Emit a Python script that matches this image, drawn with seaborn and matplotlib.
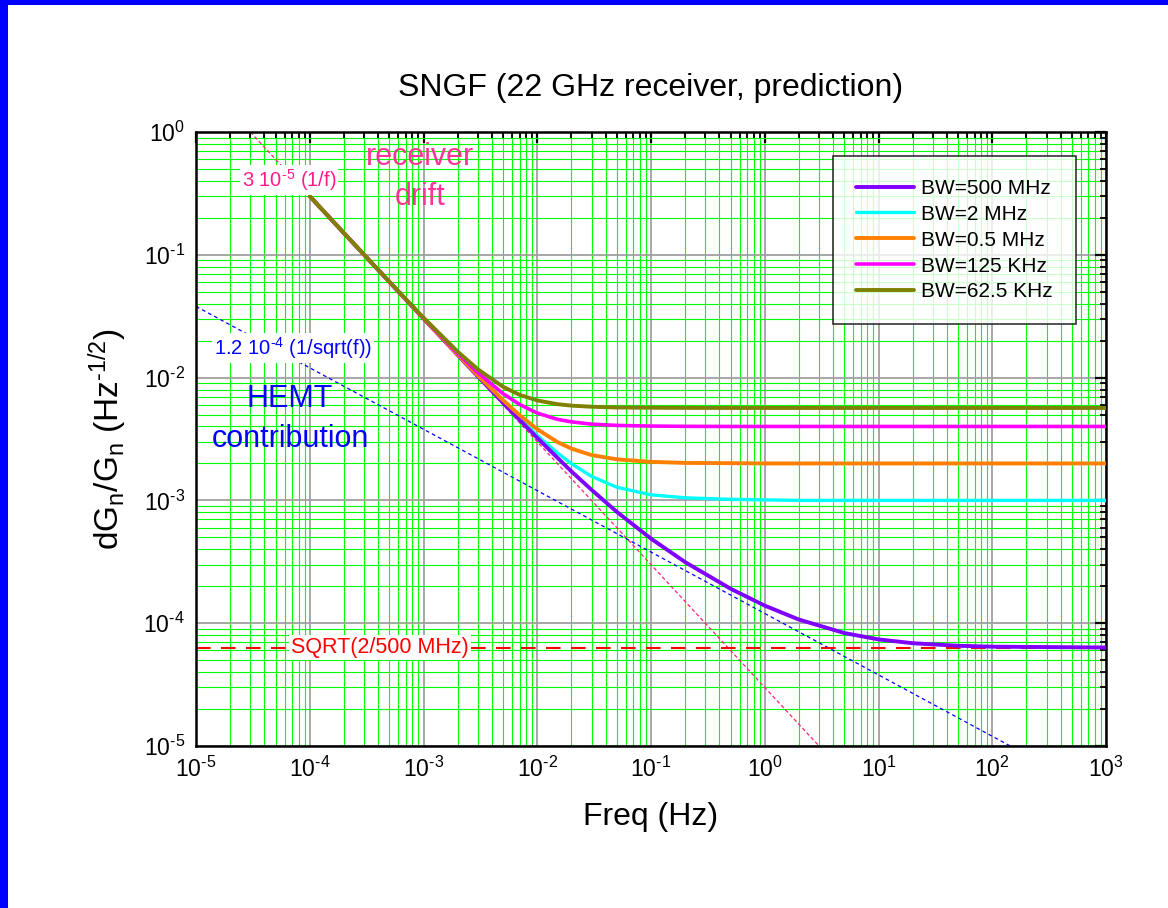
import numpy as np
import pandas as pd
import matplotlib
matplotlib.use("Agg")
import matplotlib.pyplot as plt
from matplotlib.ticker import LogLocator, NullFormatter, FixedFormatter
from matplotlib.patches import Rectangle
import seaborn as sns

# ---- data ----
freq = [1e-4, 2e-4, 5e-4, 1e-3, 2e-3, 3e-3, 5e-3, 7e-3, 1e-2, 1.5e-2, 2e-2, 3e-2,
        5e-2, 0.1, 0.2, 0.5, 1, 2, 5, 10, 20, 50, 100, 1000]
bw_500MHz = [0.300, 0.150, 0.0602, 0.0302, 0.01524, 0.01024, 0.00624, 0.00452, 0.00323,
             0.00223, 0.00172, 0.00122, 8.07e-4, 4.88e-4, 3.14e-4, 1.91e-4, 1.39e-4,
             1.07e-4, 8.32e-5, 7.38e-5, 6.87e-5, 6.55e-5, 6.44e-5, 6.34e-5]
bw_2MHz = [0.300, 0.150, 0.0602, 0.03026, 0.01527, 0.01029, 0.00632, 0.00463, 0.00338,
           0.00244, 0.00199, 0.00157, 0.00128, 0.00111, 0.00105, 0.00102, 0.00101,
           0.00100, 0.00100, 0.00100, 0.00100, 0.00100, 0.00100, 0.00100]
bw_05MHz = [0.300, 0.150, 0.0603, 0.03031, 0.01537, 0.01043, 0.00655, 0.00494, 0.00380,
            0.00299, 0.00264, 0.00234, 0.00216, 0.00206, 0.00202, 0.00201, 0.00200,
            0.00200, 0.00200, 0.00200, 0.00200, 0.00200, 0.00200, 0.00200]
bw_125KHz = [0.300, 0.150, 0.0604, 0.03050, 0.01575, 0.01099, 0.00741, 0.00604, 0.00514,
             0.00458, 0.00436, 0.00418, 0.00408, 0.00403, 0.00401, 0.00400, 0.00400,
             0.00400, 0.00400, 0.00400, 0.00400, 0.00400, 0.00400, 0.00400]
bw_625KHz = [0.300, 0.150, 0.0605, 0.03076, 0.01625, 0.01170, 0.00842, 0.00724, 0.00651,
             0.00608, 0.00591, 0.00579, 0.00571, 0.00568, 0.00567, 0.00566, 0.00566,
             0.00566, 0.00566, 0.00566, 0.00566, 0.00566, 0.00566, 0.00566]
series_labels = ["BW=500 MHz", "BW=2 MHz", "BW=0.5 MHz", "BW=125 KHz", "BW=62.5 KHz"]

drift_f = [3e-5, 3.0]
drift_v = [1.0, 1e-5]
hemt_f = [1e-5, 144.0]
hemt_v = [0.038, 1e-5]
sqrt_f = [1e-5, 1e3]
sqrt_v = [6.32e-5, 6.32e-5]

x_ticks = [1e-5, 1e-4, 1e-3, 1e-2, 1e-1, 1e0, 1e1, 1e2, 1e3]
x_exps = ["-5", "-4", "-3", "-2", "-1", "0", "1", "2", "3"]
y_ticks = [1e-5, 1e-4, 1e-3, 1e-2, 1e-1, 1e0]
y_exps = ["-5", "-4", "-3", "-2", "-1", "0"]

# ---- style ----
sns.set_style("white")
plt.rcParams["font.family"] = ["Liberation Sans", "DejaVu Sans"]
plt.rcParams["mathtext.fontset"] = "custom"
plt.rcParams["mathtext.rm"] = "Liberation Sans"
plt.rcParams["mathtext.it"] = "Liberation Sans:italic"
plt.rcParams["mathtext.bf"] = "Liberation Sans:bold"
plt.rcParams["mathtext.default"] = "regular"
plt.rcParams["axes.unicode_minus"] = False
plt.rcParams["text.color"] = "black"
plt.rcParams["axes.labelcolor"] = "black"
plt.rcParams["xtick.color"] = "black"
plt.rcParams["ytick.color"] = "black"

HY = "\u2010"  # short hyphen for exponents


def exp_label(e):
    return "$10^{" + e.replace("-", HY) + "}$"


W, H = 1168, 908
fig = plt.figure(figsize=(W / 100, H / 100), dpi=100)
fig.patch.set_facecolor("white")
ax = fig.add_axes([196 / W, 1 - 746 / H, (1106 - 196) / W, (746 - 132) / H])
ax.set_facecolor("white")
ax.set_xscale("log")
ax.set_yscale("log")

# reference lines
ax.plot(drift_f, drift_v, color="#FF2080", lw=0.9, dashes=(3, 2), zorder=2)
ax.plot(hemt_f, hemt_v, color="#0000FF", lw=0.9, dashes=(3, 2.5), zorder=2)
ax.plot(sqrt_f, sqrt_v, color="#FF0000", lw=1.5, dashes=(7, 5), zorder=2)

df = pd.DataFrame({"freq": freq, "b500": bw_500MHz, "b2": bw_2MHz, "b05": bw_05MHz,
                   "b125": bw_125KHz, "b625": bw_625KHz})
specs = [("b2", "#00FFFF", 2.4, series_labels[1]),
         ("b500", "#8000FF", 2.8, series_labels[0]),
         ("b05", "#FF8000", 2.8, series_labels[2]),
         ("b125", "#FF00FF", 2.6, series_labels[3]),
         ("b625", "#808000", 2.8, series_labels[4])]
handles = {}
for col, c, lw, lab in specs:
    sns.lineplot(data=df, x="freq", y=col, ax=ax, color=c, lw=lw, sort=False,
                 estimator=None, zorder=3)
    handles[lab] = ax.lines[-1]

ax.set_xlim(1e-5, 1e3)
ax.set_ylim(1e-5, 1e0)

ax.xaxis.set_minor_locator(LogLocator(base=10, subs=np.arange(2, 10), numticks=100))
ax.yaxis.set_minor_locator(LogLocator(base=10, subs=np.arange(2, 10), numticks=100))
ax.xaxis.set_minor_formatter(NullFormatter())
ax.yaxis.set_minor_formatter(NullFormatter())
ax.set_xticks(x_ticks)
ax.set_xticklabels([exp_label(e) for e in x_exps])
ax.set_yticks(y_ticks)
ax.set_yticklabels([exp_label(e) for e in y_exps])

ax.grid(True, which="minor", color="#00FF00", lw=0.8, zorder=0)
ax.grid(True, which="major", color="#A0A0A0", lw=1.3, zorder=0)
ax.set_axisbelow(True)

ax.tick_params(which="both", direction="in", top=True, right=True, colors="black",
               labelsize=16.5, pad=8)
ax.tick_params(which="major", length=8, width=1.6)
ax.tick_params(which="minor", length=4.5, width=1.3)
for s in ax.spines.values():
    s.set_color("black")
    s.set_linewidth(1.8)

ax.set_xlabel("Freq (Hz)", fontsize=23, labelpad=14, color="black")
ax.set_ylabel("dG$_n$/G$_n$ (Hz$^{" + HY + "1/2}$)", fontsize=24, labelpad=10,
              color="black")
fig.text(651 / W, 1 - 88 / H, "SNGF (22 GHz receiver, prediction)", fontsize=23,
         ha="center", va="center", color="black")

# annotations
ax.text(9.3e-4, 0.43, "receiver\ndrift", color="#FF3399", fontsize=22,
        ha="center", va="center", linespacing=1.4)
ax.text(6.57e-5, 0.407, "3 10$^{" + HY + "5}$ (1/f)", color="#FF1A8C", fontsize=14.5,
        ha="center", va="center",
        bbox=dict(facecolor="white", edgecolor="none", pad=1.5))
ax.text(7.13e-5, 0.0174, "1.2 10$^{" + HY + "4}$ (1/sqrt(f))", color="#0000FF",
        fontsize=14.5, ha="center", va="center",
        bbox=dict(facecolor="white", edgecolor="none", pad=1.5))
ax.text(6.7e-5, 4.6e-3, "HEMT\ncontribution", color="#0000FF", fontsize=22,
        ha="center", va="center", linespacing=1.4)
ax.text(4.15e-4, 6.32e-5, "SQRT(2/500 MHz)", color="#FF0000", fontsize=15.5,
        ha="center", va="center",
        bbox=dict(facecolor="white", edgecolor="none", pad=1.5))

leg = ax.legend([handles[l] for l in series_labels], series_labels,
                loc="upper right", bbox_to_anchor=(1076 / W, 1 - 156 / H),
                bbox_transform=fig.transFigure, borderaxespad=0, fontsize=15,
                frameon=True, fancybox=False, borderpad=1.1, labelspacing=0.33,
                handlelength=2.8, handletextpad=0.35, labelcolor="black")
leg.get_frame().set_edgecolor("black")
leg.get_frame().set_linewidth(1.2)
leg.set_zorder(5)

# blue frame (top and left)
fig.patches.append(Rectangle((0, 0), 8 / W, 1, transform=fig.transFigure,
                             facecolor="#0000FF", edgecolor="none", zorder=10))
fig.patches.append(Rectangle((0, 1 - 5 / H), 1, 5 / H, transform=fig.transFigure,
                             facecolor="#0000FF", edgecolor="none", zorder=10))

fig.savefig("out.png", dpi=100, facecolor="white")
